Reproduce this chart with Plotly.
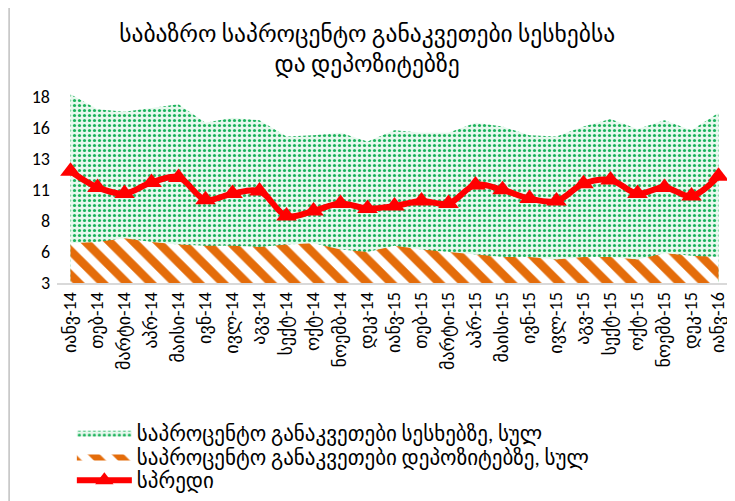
import plotly.graph_objects as go

months = ['იანვ-14', 'თებ-14', 'მარტი-14', 'აპრ-14', 'მაისი-14', 'ივნ-14', 'ივლ-14',
          'აგვ-14', 'სექტ-14', 'ოქტ-14', 'ნოემბ-14', 'დეკ-14', 'იანვ-15', 'თებ-15',
          'მარტი-15', 'აპრ-15', 'მაისი-15', 'ივნ-15', 'ივლ-15', 'აგვ-15', 'სექტ-15',
          'ოქტ-15', 'ნოემბ-15', 'დეკ-15', 'იანვ-16']

loans = [18.2, 17.0, 16.8, 17.1, 17.4, 15.9, 16.3, 16.1, 14.8, 14.9,
         15.1, 14.4, 15.3, 15.1, 15.1, 15.9, 15.6, 14.9, 14.8, 15.6,
         16.2, 15.4, 16.1, 15.3, 16.7]
deposits = [6.2, 6.3, 6.6, 6.3, 6.1, 6.0, 6.0, 5.9, 6.1, 6.2,
            5.7, 5.5, 6.0, 5.7, 5.5, 5.3, 5.1, 5.1, 4.9, 5.1,
            5.1, 4.9, 5.4, 5.2, 5.1]
spread = [12.0, 10.7, 10.2, 11.1, 11.5, 9.7, 10.2, 10.4, 8.4, 8.8,
          9.4, 9.0, 9.2, 9.6, 9.4, 10.9, 10.5, 9.8, 9.6, 11.0,
          11.3, 10.2, 10.7, 10.0, 11.6]

y_ticks = [3, 5.5, 8, 10.5, 13, 15.5, 18]
y_tick_labels = ['3', '6', '8', '11', '13', '16', '18']

names = ['საპროცენტო განაკვეთები სესხებზე, სულ',
         'საპროცენტო განაკვეთები დეპოზიტებზე, სულ',
         'სპრედი']
title = 'საბაზრო საპროცენტო განაკვეთები სესხებსა<br>და დეპოზიტებზე'

FONT = "Calibri, Carlito, 'Liberation Sans', 'DejaVu Sans', sans-serif"

fig = go.Figure()

# loans area - green dotted
fig.add_trace(go.Scatter(x=months, y=loans, name=names[0], mode='lines',
                         line=dict(width=0, color='#00b050'), fill='tozeroy',
                         fillcolor='#e8f8ee', legend='legend',
                         fillpattern=dict(shape='.', fgcolor='#1cb35c', bgcolor='#e8f8ee',
                                          fgopacity=1, fillmode='replace',
                                          size=5, solidity=0.32)))

# deposits area - orange hatch
fig.add_trace(go.Scatter(x=months, y=deposits, name=names[1], mode='lines',
                         line=dict(width=0, color='#e46c0a'), fill='tozeroy',
                         fillcolor='white', legend='legend2',
                         fillpattern=dict(shape='\\', fgcolor='#e46c0a', bgcolor='white',
                                          fgopacity=1, fillmode='replace',
                                          size=17, solidity=0.5)))

# spread line
fig.add_trace(go.Scatter(x=months, y=spread, name=names[2], mode='lines+markers',
                         line=dict(width=6, color='#ff0000', shape='spline'),
                         marker=dict(symbol='triangle-up', size=18, color='#ff0000'),
                         legend='legend3'))

leg = dict(x=0.022, xanchor='left', yanchor='middle', orientation='v',
           font=dict(size=21, color='black'), itemwidth=55,
           bgcolor='rgba(0,0,0,0)')

# page body has an 8px margin, so sizes are shifted by that
fig.update_layout(
    width=727, height=493,
    margin=dict(l=48.5, r=2.5, t=85, b=217),
    paper_bgcolor='white', plot_bgcolor='white',
    font=dict(family=FONT, color='black'),
    title=dict(text=title, x=0.494, xref='container', xanchor='center',
               y=0.932, yref='container', yanchor='middle',
               font=dict(family=FONT, size=23.5, color='black')),
    showlegend=True,
    legend=dict(leg, y=-0.78),
    legend2=dict(leg, y=-0.905),
    legend3=dict(leg, y=-1.03),
    shapes=[dict(type='line', xref='paper', yref='paper', x0=-0.071, x1=-0.071,
                 y0=-1.2, y1=1.5, line=dict(color='#a0a0a0', width=1))],
)

fig.update_xaxes(type='category', range=[-0.5, 24.5], tickangle=-90,
                 tickfont=dict(size=18, color='black'), showgrid=False,
                 showline=True, linecolor='#d9d9d9', linewidth=2, ticks='',
                 zeroline=False)
fig.update_yaxes(range=[3, 18.3], tickvals=y_ticks, ticktext=y_tick_labels,
                 tickfont=dict(size=18, color='black'), showgrid=False,
                 showline=False, zeroline=False, ticks='', ticklabelstandoff=6)

fig.write_html("out.html")
